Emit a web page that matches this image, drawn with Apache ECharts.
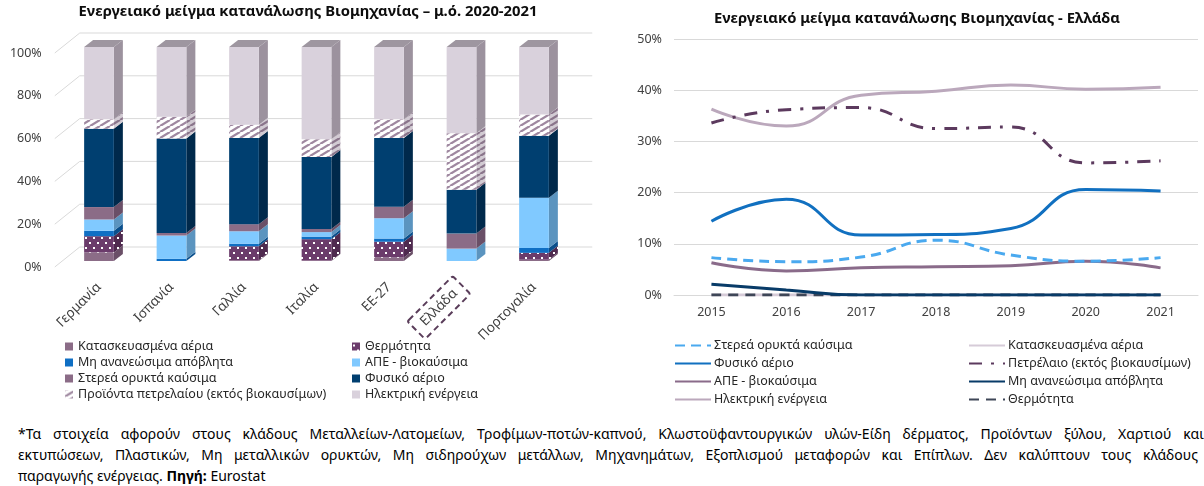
<!DOCTYPE html>
<html><head><meta charset="utf-8">
<script src="https://cdn.jsdelivr.net/npm/echarts@6/dist/echarts.min.js"></script>
<style>
html,body{margin:0;padding:0;background:#fff;width:1204px;height:486px;overflow:hidden}
#left{position:absolute;left:0;top:0;width:600px;height:415px}
#right{position:absolute;left:600px;top:0;width:604px;height:415px}
#note{position:absolute;left:18px;top:423px;width:1186px;font-family:"Noto Sans",sans-serif;font-size:14px;color:#000;line-height:21px}
#note div{white-space:nowrap}
#note .j{text-align:justify;text-align-last:justify;white-space:normal;width:1186px}
</style>
</head><body>
<div id="left"></div><div id="right"></div>
<div id="note">
<div class="j">*Τα στοιχεία αφορούν στους κλάδους Μεταλλείων-Λατομείων, Τροφίμων-ποτών-καπνού, Κλωστοϋφαντουργικών υλών-Είδη δέρματος, Προϊόντων ξύλου, Χαρτιού και</div>
<div class="j" style="width:1180px">εκτυπώσεων, Πλαστικών, Μη μεταλλικών ορυκτών, Μη σιδηρούχων μετάλλων, Μηχανημάτων, Εξοπλισμού μεταφορών και Επίπλων. Δεν καλύπτουν τους κλάδους</div>
<div>παραγωγής ενέργειας. <b>Πηγή:</b> Eurostat</div>
</div>
<script>
// ---------------- DATA ----------------
const countries = ['Γερμανία','Ισπανία','Γαλλία','Ιταλία','ΕΕ-27','Ελλάδα','Πορτογαλία'];
const yTicksLeft = [0,20,40,60,80,100];
// shares (%), average 2020-2021, stacked bottom -> top
const manufGas   = [4.0, 0.0, 0.3, 0.2, 1.6, 0.0, 0.6];
const heat       = [7.6, 0.0, 6.6, 10.0, 7.4, 0.0, 3.2];
const nonRenWaste= [2.5, 1.0, 1.2, 1.2, 1.5, 0.0, 2.3];
const resBio     = [5.3, 10.9, 5.8, 2.1, 9.5, 5.8, 23.5];
const solidFoss  = [5.8, 1.2, 3.3, 1.5, 5.4, 7.0, 0.0];
const natGas     = [36.6, 44.1, 40.3, 33.6, 32.1, 20.5, 28.9];
const oilProd    = [4.4, 10.2, 6.2, 8.3, 8.7, 26.4, 9.9];
const electricity= [33.8, 32.6, 36.3, 43.1, 33.8, 40.3, 31.6];

const years = ['2015','2016','2017','2018','2019','2020','2021'];
const grSolid   = [7.3, 6.5, 7.4, 10.7, 7.8, 6.6, 7.3];
const grManuf   = [0, 0, 0, 0, 0, 0, 0];
const grNatGas  = [14.4, 18.7, 11.7, 11.8, 13.0, 20.6, 20.3];
const grOil     = [33.6, 36.2, 36.6, 32.5, 32.8, 25.8, 26.2];
const grRes     = [6.3, 4.7, 5.3, 5.5, 5.7, 6.6, 5.3];
const grWaste   = [2.1, 1.0, 0, 0, 0, 0, 0];
const grElec    = [36.3, 33.0, 39.0, 39.8, 41.0, 40.2, 40.6];
const grHeat    = [0, 0, 0, 0, 0, 0, 0];

// ---------------- STYLE HELPERS ----------------
const FONT = '"Noto Sans", sans-serif';
function dotPattern(bg){
  const c=document.createElement('canvas'); c.width=8; c.height=10;
  const g=c.getContext('2d'); g.fillStyle=bg; g.fillRect(0,0,8,10);
  g.fillStyle='#ffffff'; g.fillRect(1,2,2,2); g.fillRect(5,7,2,2);
  return {image:c, repeat:'repeat'};
}
function hatchPattern(bg, fg){
  const w=10,h=6;
  const c=document.createElement('canvas'); c.width=w; c.height=h;
  const g=c.getContext('2d'); g.fillStyle=bg; g.fillRect(0,0,w,h);
  g.strokeStyle=fg; g.lineWidth=2.3;
  for (const off of [-w,0,w]){ g.beginPath(); g.moveTo(off,h); g.lineTo(off+w,0); g.stroke(); }
  return {image:c, repeat:'repeat'};
}

const mix = [
  {name:'Κατασκευασμένα αέρια', values:manufGas, front:'#8b6c87', side:'#6a4f67'},
  {name:'Θερμότητα', values:heat, front:dotPattern('#6b3b6b'), side:dotPattern('#4f2a4f')},
  {name:'Μη ανανεώσιμα απόβλητα', values:nonRenWaste, front:'#0f6fc4', side:'#0a4f8c'},
  {name:'ΑΠΕ - βιοκαύσιμα', values:resBio, front:'#80c9ff', side:'#5b94bf'},
  {name:'Στερεά ορυκτά καύσιμα', values:solidFoss, front:'#8b6c87', side:'#6a4f67'},
  {name:'Φυσικό αέριο', values:natGas, front:'#003f70', side:'#00294b'},
  {name:'Προϊόντα πετρελαίου (εκτός βιοκαυσίμων)', values:oilProd, front:hatchPattern('#ffffff','#9f88a0'), side:hatchPattern('#d2cbd3','#8a758b')},
  {name:'Ηλεκτρική ενέργεια', values:electricity, front:'#d9d1dc', side:'#9c929e', top:'#9e96a0'}
];

// ---------------- LEFT CHART ----------------
const base = countries.map(()=>0);
const barSeries = mix.map((m, k) => {
  const data = m.values.map((v,i)=>{ const d=[i, base[i], v]; base[i]+=v; return d; });
  const isTop = k === mix.length-1;
  return {
    type:'custom', name:m.name, data, encode:{x:0, y:2}, clip:false, z:2,
    itemStyle:{color:m.front},
    renderItem(params, api){
      const i=api.value(0), b=api.value(1), v=api.value(2);
      if (!(v>0)) return null;
      const bw = api.size([1,0])[0]*0.41;
      const pb = api.coord([i,b]), pt = api.coord([i,b+v]);
      const x0=pb[0]-bw/2, x1=pb[0]+bw/2, yb=pb[1]-6, yt=pt[1]-6;
      const dx=9, dy=-7;
      const ch=[
        {type:'polygon', shape:{points:[[x1,yb],[x1,yt],[x1+dx,yt+dy],[x1+dx,yb+dy]]}, style:{fill:m.side}},
        {type:'rect', shape:{x:x0,y:yt,width:bw,height:yb-yt}, style:{fill:m.front}}
      ];
      if (isTop) ch.push({type:'polygon', shape:{points:[[x0,yt],[x1,yt],[x1+dx,yt+dy],[x0+dx,yt+dy]]}, style:{fill:m.top}});
      return {type:'group', children:ch};
    }
  };
});

const gridSeries = {
  type:'custom', name:'grid', silent:true, clip:false, z:0,
  data: yTicksLeft.map(v=>[0,v]), encode:{x:0,y:1},
  renderItem(params, api){
    const p = api.coord([0, api.value(1)]); const cs = params.coordSys;
    return {type:'polyline', shape:{points:[[cs.x-8,p[1]],[cs.x+17,p[1]-20],[cs.x+cs.width+22,p[1]-20]]},
      style:{stroke:'#d9d9d9', lineWidth:1, fill:'none'}};
  }
};

const leftLegendStyle = {orient:'vertical', icon:'rect', itemWidth:8, itemHeight:8, itemGap:3,
  textStyle:{fontFamily:FONT, fontSize:12.5, color:'#262626'}, selectedMode:false};

const left = echarts.init(document.getElementById('left'), null, {renderer:'canvas'});
left.setOption({
  animation:false,
  graphic:[{type:'text', x:308, y:12, style:{text:'Ενεργειακό μείγμα κατανάλωσης Βιομηχανίας – μ.ό. 2020-2021',
    align:'center', verticalAlign:'middle', font:'bold 14.8px '+FONT, fill:'#0d0d0d'}}],
  grid:{left:62.75, width:507.5, top:53, height:214},
  xAxis:{type:'category', data: countries.map(c => c==='Ελλάδα'
      ? {value:c, textStyle:{borderColor:'#5a3d5a', borderWidth:2, borderType:[6,4], padding:[6,9,5,9], borderRadius:2}}
      : c),
    axisLine:{show:false}, axisTick:{show:false},
    axisLabel:{rotate:45, margin:18, interval:0, fontFamily:FONT, fontSize:13.5, color:'#404040'}},
  yAxis:{type:'value', min:0, max:100, interval:20, splitLine:{show:false}, axisLine:{show:false}, axisTick:{show:false},
    axisLabel:{formatter:'{value}%', margin:21, fontFamily:FONT, fontSize:12.5, color:'#404040'}},
  legend:[
    Object.assign({left:60, top:335, data:['Κατασκευασμένα αέρια','Μη ανανεώσιμα απόβλητα','Στερεά ορυκτά καύσιμα','Προϊόντα πετρελαίου (εκτός βιοκαυσίμων)']}, leftLegendStyle),
    Object.assign({left:347, top:335, data:['Θερμότητα','ΑΠΕ - βιοκαύσιμα','Φυσικό αέριο','Ηλεκτρική ενέργεια']}, leftLegendStyle)
  ],
  series:[gridSeries].concat(barSeries)
});

// ---------------- RIGHT CHART ----------------
const right = echarts.init(document.getElementById('right'), null, {renderer:'canvas'});
function lineS(name, data, color, type, width, z){
  return {type:'line', name, data, smooth:0.5, symbol:'none', showSymbol:false, z:z||2,
    lineStyle:{color, width:width||3, type:type||'solid', cap:'butt'}, itemStyle:{color}};
}
const rightLegendStyle = {orient:'vertical', itemWidth:36, itemHeight:12, itemGap:5,
  itemStyle:{opacity:0},
  textStyle:{fontFamily:FONT, fontSize:12.5, color:'#262626', padding:[0,0,0,-2]}, selectedMode:false};
right.setOption({
  animation:false,
  graphic:[{type:'text', x:317, y:19, style:{text:'Ενεργειακό μείγμα κατανάλωσης Βιομηχανίας - Ελλάδα',
    align:'center', verticalAlign:'middle', font:'bold 14.8px '+FONT, fill:'#0d0d0d'}}],
  grid:{left:74, width:524, top:39, height:256},
  xAxis:{type:'category', data:years, axisLine:{show:true, lineStyle:{color:'#d9d9d9'}}, axisTick:{show:false},
    axisLabel:{margin:11, fontFamily:FONT, fontSize:12.5, color:'#404040'}},
  yAxis:{type:'value', min:0, max:50, interval:10, axisLine:{show:false}, axisTick:{show:false},
    splitLine:{lineStyle:{color:'#d9d9d9', width:1}},
    axisLabel:{formatter:'{value}%', margin:12, fontFamily:FONT, fontSize:12.5, color:'#404040'}},
  legend:[
    Object.assign({left:69, top:334, data:['Στερεά ορυκτά καύσιμα','Φυσικό αέριο','ΑΠΕ - βιοκαύσιμα','Ηλεκτρική ενέργεια']}, rightLegendStyle),
    Object.assign({left:363, top:334, data:['Κατασκευασμένα αέρια','Πετρέλαιο (εκτός βιοκαυσίμων)','Μη ανανεώσιμα απόβλητα','Θερμότητα']}, rightLegendStyle)
  ],
  series:[
    lineS('Κατασκευασμένα αέρια', grManuf, '#d6cbd8', 'solid', 3, 1),
    lineS('Θερμότητα', grHeat, '#3e4657', [10,7], 3, 2),
    lineS('Μη ανανεώσιμα απόβλητα', grWaste, '#083b68', 'solid', 3, 3),
    lineS('ΑΠΕ - βιοκαύσιμα', grRes, '#8a6b8a', 'solid', 3, 3),
    lineS('Στερεά ορυκτά καύσιμα', grSolid, '#4aa9ef', [10,6], 3, 4),
    lineS('Φυσικό αέριο', grNatGas, '#1170c0', 'solid', 3, 4),
    lineS('Ηλεκτρική ενέργεια', grElec, '#bba8bc', 'solid', 3, 4),
    lineS('Πετρέλαιο (εκτός βιοκαυσίμων)', grOil, '#5c3a5e', [13,9,3,9], 3, 5)
  ]
});
</script>
</body></html>
